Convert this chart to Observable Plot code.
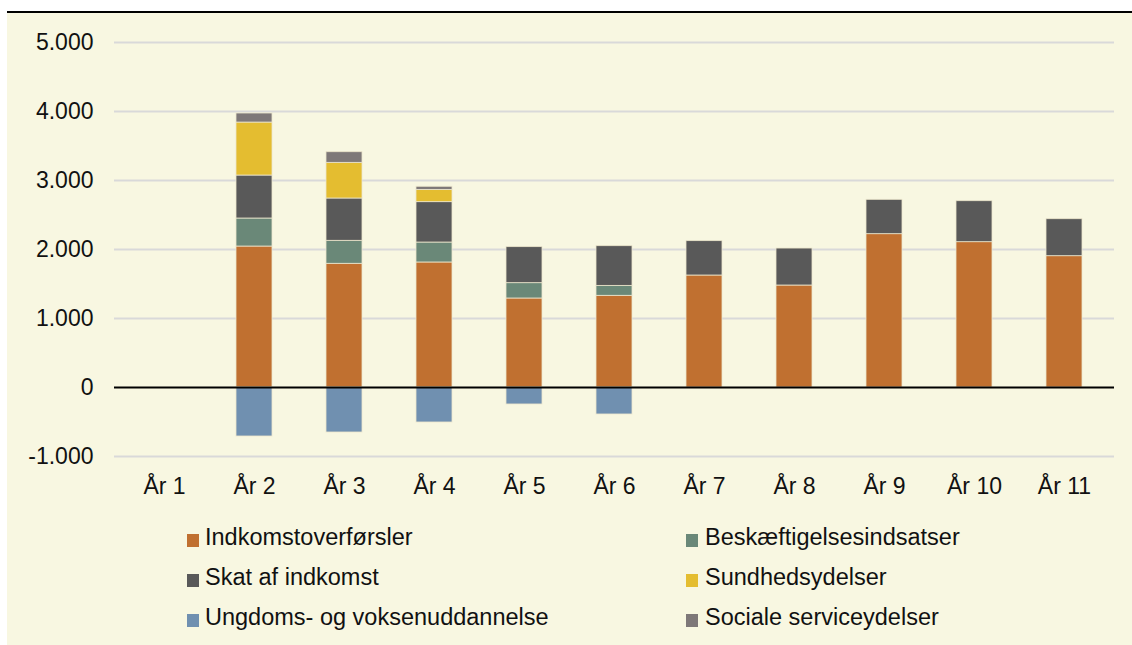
<!DOCTYPE html>
<html><head><meta charset="utf-8">
<script src="https://cdn.jsdelivr.net/npm/d3@7"></script>
<script src="https://cdn.jsdelivr.net/npm/@observablehq/plot@0.6"></script>
<style>
html,body{margin:0;padding:0;background:#fff;width:1132px;height:645px;overflow:hidden;font-family:"Liberation Sans",Arial,sans-serif;}
#panel{position:absolute;left:7px;top:11px;width:1125px;height:634px;background:#F8F7E1;border-top:2px solid #000;box-sizing:border-box;}
#chart{position:absolute;left:0;top:0;}
#legend{position:absolute;left:0;top:0;}
</style></head>
<body>
<div id="panel"></div>
<div id="chart"></div>
<svg id="legend" width="1132" height="645"></svg>
<script>
const years = ["År 1","År 2","År 3","År 4","År 5","År 6","År 7","År 8","År 9","År 10","År 11"];
const series = ["Indkomstoverførsler","Beskæftigelsesindsatser","Skat af indkomst","Sundhedsydelser","Sociale serviceydelser","Ungdoms- og voksenuddannelse"];
const colors = ["#C07030","#6A8878","#595959","#E4BD30","#7E7878","#7090B0"];
const indkomst  = [0, 2043, 1793, 1812, 1290, 1329, 1623, 1478, 2222, 2106, 1903];
const beskaeft  = [0,  406,  333,  289,  222,  144,    0,    0,    0,    0,    0];
const skat      = [0,  623,  613,  585,  522,  575,  498,  536,  498,  594,  536];
const sundhed   = [0,  768,  517,  178,    0,    0,    0,    0,    0,    0,    0];
const sociale   = [0,  131,  154,   45,    0,    0,    0,    0,    0,    0,    0];
const ungdom    = [0, -710, -652, -507, -246, -391,    0,    0,    0,    0,    0];
const yTicks = [-1000, 0, 1000, 2000, 3000, 4000, 5000];
const legendOrder = ["Indkomstoverførsler","Beskæftigelsesindsatser","Skat af indkomst","Sundhedsydelser","Ungdoms- og voksenuddannelse","Sociale serviceydelser"];

const valuesBySeries = [indkomst, beskaeft, skat, sundhed, sociale, ungdom];
const rows = [];
series.forEach((s, si) => {
  years.forEach((y, yi) => {
    const v = valuesBySeries[si][yi];
    if (v !== 0) rows.push({year: y, series: s, value: v});
  });
});

const fmt = d3.formatLocale({decimal: ",", thousands: ".", grouping: [3], currency: ["", ""], minus: "-"}).format(",");

const chart = Plot.plot({
  width: 1132, height: 505,
  marginLeft: 114, marginRight: 18, marginTop: 42, marginBottom: 49,
  style: {background: "transparent", fontFamily: "Liberation Sans, Arial, sans-serif", fontSize: "23px", color: "#111", overflow: "visible"},
  x: {domain: years, paddingInner: 0.6, paddingOuter: 0.3, label: null, tickSize: 0, tickPadding: 21},
  y: {domain: [-1000, 5000], ticks: yTicks, tickFormat: fmt, label: null, tickSize: 0, tickPadding: 21},
  color: {domain: series, range: colors},
  marks: [
    Plot.ruleY(yTicks.filter(d => d !== 0), {stroke: "#d9d9d9", strokeWidth: 2}),
    Plot.barY(rows, Plot.stackY({x: "year", y: "value", z: "series", fill: "series", order: series, stroke: "#ece6cc", strokeWidth: 0.8})),
    Plot.ruleY([0], {stroke: "#000", strokeWidth: 2})
  ]
});
document.getElementById("chart").appendChild(chart);

const colorOf = s => colors[series.indexOf(s)];
const leg = d3.select("#legend");
const colX = [187, 686], textX = [205, 705], baseY = [545, 585, 625];
legendOrder.forEach((s, i) => {
  const c = i % 2, r = Math.floor(i / 2);
  leg.append("rect").attr("x", colX[c]).attr("y", baseY[r] - 11).attr("width", 12).attr("height", 13).attr("fill", colorOf(s));
  leg.append("text").attr("x", textX[c]).attr("y", baseY[r]).attr("font-size", 23.5)
    .attr("font-family", "Liberation Sans, Arial, sans-serif").attr("fill", "#111").text(s);
});
</script>
</body></html>
